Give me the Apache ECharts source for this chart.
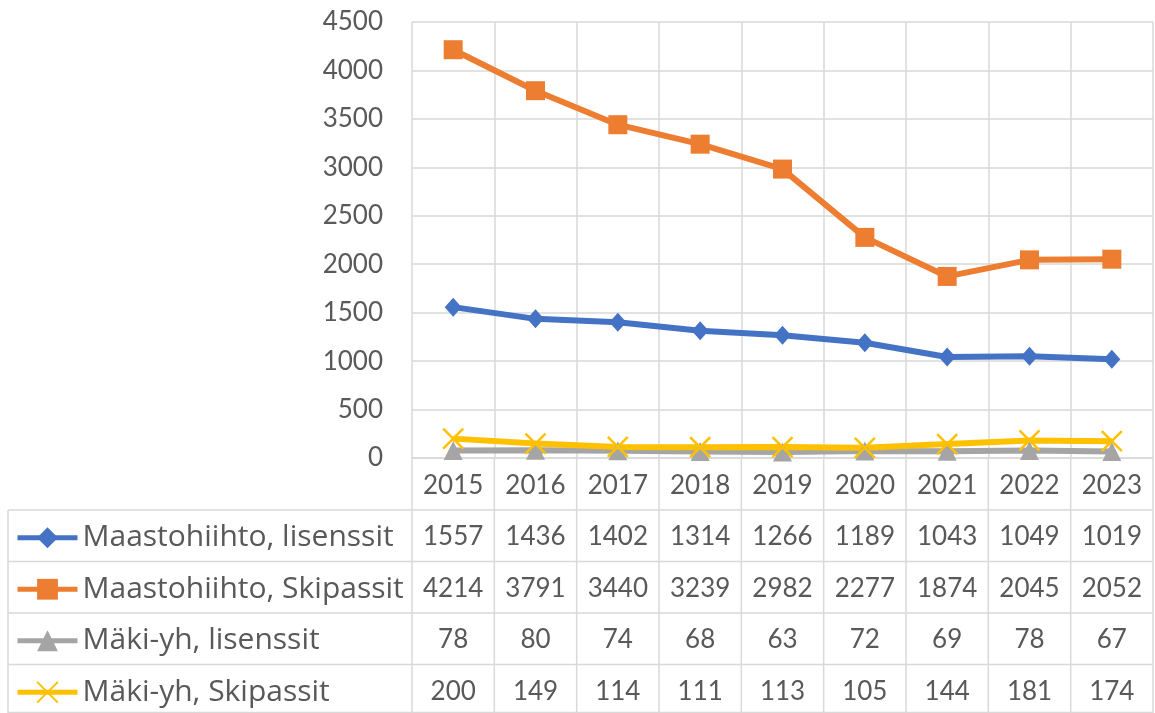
<!DOCTYPE html>
<html>
<head>
<meta charset="utf-8">
<script src="https://cdn.jsdelivr.net/npm/echarts@6/dist/echarts.min.js"></script>
<style>
  html, body { margin: 0; padding: 0; background: #fff; }
  #chart { width: 1155px; height: 713px; }
</style>
</head>
<body>
<div id="chart"></div>
<script>
const years = ['2015', '2016', '2017', '2018', '2019', '2020', '2021', '2022', '2023'];
const seriesNames = ['Maastohiihto, lisenssit', 'Maastohiihto, Skipassit', 'Mäki-yh, lisenssit', 'Mäki-yh, Skipassit'];
const maastoLisenssit = [1557, 1436, 1402, 1314, 1266, 1189, 1043, 1049, 1019];
const maastoSkipassit = [4214, 3791, 3440, 3239, 2982, 2277, 1874, 2045, 2052];
const makiLisenssit = [78, 80, 74, 68, 63, 72, 69, 78, 67];
const makiSkipassit = [200, 149, 114, 111, 113, 105, 144, 181, 174];
const yTicks = [0, 500, 1000, 1500, 2000, 2500, 3000, 3500, 4000, 4500];

const colors = ['#4472C4', '#ED7D31', '#A5A5A5', '#FFC000'];
const symbols = [
  'diamond',
  'rect',
  'triangle',
  'path://M0,0 L2,2 M2,0 L0,2'
];
const allData = [maastoLisenssit, maastoSkipassit, makiLisenssit, makiSkipassit];

const font = 'Lato, "Open Sans", sans-serif';
const legendFont = '"Open Sans", Lato, sans-serif';
const textColor = '#595959';
const gridColor = '#D9D9D9';

// layout
const plotLeft = 412, plotRight = 1153, plotTop = 22, plotBottom = 458;
const tableLeft = 8, tableBottom = 713;
const rowLines = [510, 561.5, 613, 664.5];
const rowH = 51.5;
const colW = (plotRight - plotLeft) / years.length;

const chart = echarts.init(document.getElementById('chart'));

const graphics = [];
// horizontal table lines
rowLines.concat([712.5]).forEach(y => {
  graphics.push({ type: 'line', shape: { x1: tableLeft, y1: y, x2: plotRight, y2: y },
    style: { stroke: gridColor, lineWidth: 1.5 }, silent: true });
});
// vertical table lines
graphics.push({ type: 'line', shape: { x1: tableLeft, y1: rowLines[0], x2: tableLeft, y2: tableBottom },
  style: { stroke: gridColor, lineWidth: 1.5 }, silent: true });
for (let i = 0; i <= years.length; i++) {
  const x = plotLeft + i * colW;
  graphics.push({ type: 'line', shape: { x1: x, y1: plotBottom, x2: x, y2: tableBottom },
    style: { stroke: gridColor, lineWidth: 1.5 }, silent: true });
}
// values
allData.forEach((arr, r) => {
  const cy = rowLines[0] + (r + 0.5) * rowH;
  arr.forEach((v, i) => {
    graphics.push({ type: 'text', x: plotLeft + (i + 0.5) * colW, y: cy + 1, silent: true,
      style: { text: String(v), fill: textColor, font: '26px ' + font, align: 'center', verticalAlign: 'middle' } });
  });
});

// one legend per table row
const legends = seriesNames.map((name, r) => ({
  orient: 'horizontal',
  left: 15,
  top: rowLines[0] + (r + 0.5) * rowH - 13,
  padding: 0,
  itemWidth: 60,
  itemHeight: 26,
  lineStyle: { width: 5 },
  selectedMode: false,
  textStyle: { color: textColor, fontSize: 30, fontFamily: legendFont, lineHeight: 26 },
  data: [name]
}));

chart.setOption({
  animation: false,
  color: colors,
  grid: { left: plotLeft, right: 1155 - plotRight, top: plotTop, bottom: 713 - plotBottom },
  legend: legends,
  xAxis: {
    type: 'category',
    data: years,
    axisLine: { show: true, lineStyle: { color: gridColor, width: 1.5 } },
    axisTick: { show: false },
    axisLabel: { color: textColor, fontSize: 26, fontFamily: font, margin: 15, interval: 0 },
    splitLine: { show: true, interval: 0, lineStyle: { color: gridColor, width: 1.5 } }
  },
  yAxis: {
    type: 'value',
    min: yTicks[0],
    max: yTicks[yTicks.length - 1],
    interval: yTicks[1] - yTicks[0],
    axisLine: { show: false },
    axisTick: { show: false },
    axisLabel: { color: textColor, fontSize: 26, fontFamily: font, margin: 29, formatter: v => String(v) },
    splitLine: { lineStyle: { color: gridColor, width: 1.5 } }
  },
  series: seriesNames.map((name, k) => ({
    name: name,
    type: 'line',
    data: allData[k],
    symbol: symbols[k],
    symbolSize: k === 0 ? [17, 19] : (k === 3 ? 20 : 19),
    lineStyle: { width: 6, color: colors[k] },
    itemStyle: k === 3
      ? { color: colors[k], borderColor: colors[k], borderWidth: 2.5 }
      : { color: colors[k] }
  })),
  graphic: graphics
});
</script>
</body>
</html>
